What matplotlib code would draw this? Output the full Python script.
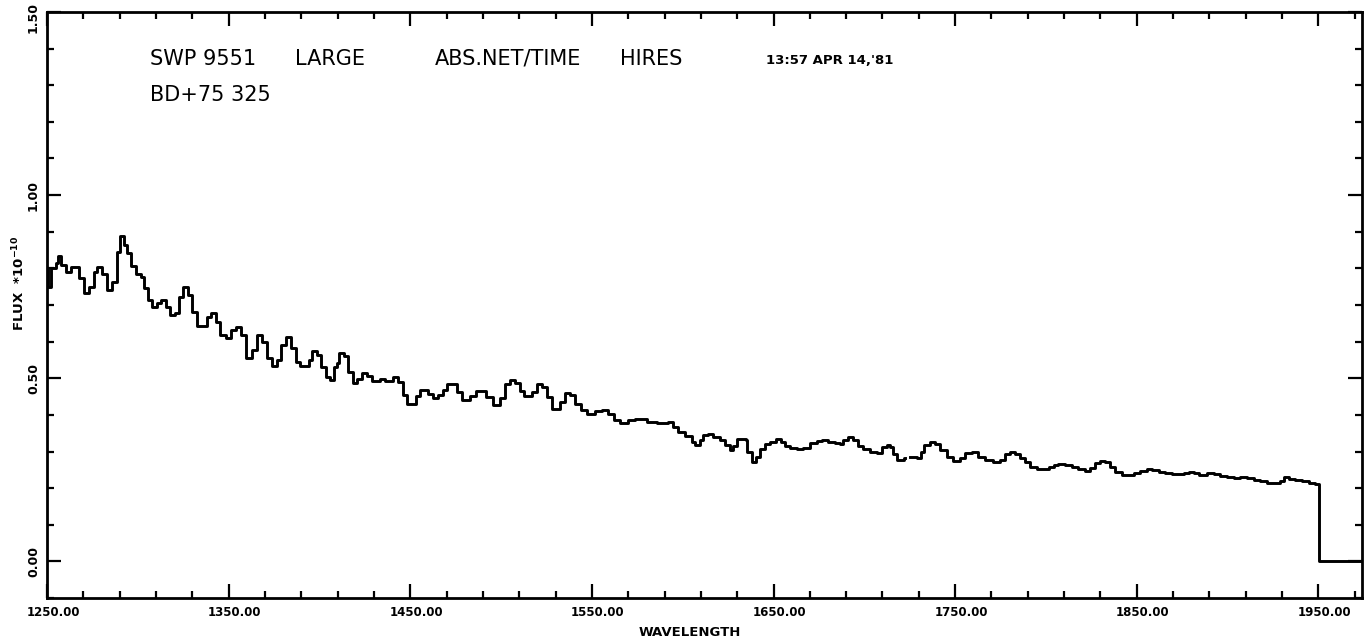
"""IUE SWP 9551 spectrum of BD+75 325 — absolute net flux, hi-res binning."""

import numpy as np
import matplotlib
matplotlib.use("Agg")
import matplotlib.pyplot as plt
import matplotlib.transforms as mtransforms
from matplotlib.ticker import MultipleLocator, FormatStrFormatter, FuncFormatter

W_PX, H_PX, DPI = 1364, 641, 100

# left bin edges (Angstrom) and flux (1e-10 units)
WAVE = [
    1250.3, 1250.8, 1252.4, 1254.8, 1256.1, 1257.9, 1260.3, 1263.0, 1267.8, 1270.4,
    1273.1, 1275.9, 1277.7, 1280.5, 1283.2, 1286.0, 1288.4, 1290.2, 1292.4, 1294.2,
    1296.4, 1298.8, 1301.6, 1303.4, 1305.6, 1308.0, 1310.8, 1312.6, 1315.3, 1317.7,
    1320.3, 1322.7, 1325.1, 1327.6, 1330.0, 1332.8, 1337.9, 1340.1, 1342.9, 1345.3,
    1348.4, 1351.1, 1353.9, 1356.6, 1359.4, 1363.1, 1365.8, 1368.6, 1371.3, 1374.1,
    1376.8, 1379.0, 1381.4, 1384.2, 1386.9, 1389.3, 1394.3, 1396.1, 1398.5, 1400.9,
    1403.4, 1405.8, 1408.0, 1409.8, 1410.9, 1413.5, 1415.9, 1418.3, 1420.5, 1423.2,
    1426.0, 1428.7, 1433.3, 1436.1, 1440.7, 1443.4, 1445.8, 1448.4, 1453.2, 1455.4,
    1460.0, 1462.7, 1465.5, 1468.2, 1470.4, 1475.6, 1478.3, 1482.9, 1486.2, 1491.7,
    1495.4, 1499.4, 1502.2, 1504.9, 1507.7, 1510.4, 1512.6, 1516.8, 1519.6, 1522.4,
    1525.1, 1527.9, 1532.5, 1535.2, 1538.0, 1540.7, 1543.8, 1547.1, 1551.7, 1555.4,
    1559.1, 1562.2, 1565.5, 1570.1, 1573.7, 1580.2, 1585.7, 1589.3, 1592.1, 1594.8,
    1597.6, 1601.3, 1604.9, 1606.8, 1609.5, 1611.4, 1614.1, 1616.9, 1620.5, 1623.3,
    1626.1, 1627.9, 1630.1, 1632.5, 1634.9, 1635.6, 1638.0, 1639.3, 1640.4, 1642.6,
    1645.3, 1648.1, 1651.4, 1654.0, 1656.3, 1659.1, 1662.8, 1666.4, 1670.1, 1673.8,
    1676.5, 1680.2, 1683.9, 1686.6, 1688.5, 1691.2, 1694.0, 1696.7, 1699.5, 1703.1,
    1706.8, 1709.6, 1712.3, 1714.2, 1715.6, 1717.8, 1719.7, 1721.9, 1722.6, 1725.2,
    1728.8, 1731.0, 1732.9, 1736.2, 1738.9, 1741.7, 1745.4, 1749.0, 1752.7, 1755.5,
    1759.1, 1762.8, 1766.5, 1771.1, 1774.8, 1777.6, 1780.3, 1783.1, 1785.8, 1788.6,
    1791.3, 1795.0, 1797.7, 1801.4, 1804.2, 1806.9, 1810.6, 1814.3, 1817.9, 1821.6,
    1824.4, 1827.1, 1829.9, 1832.6, 1835.4, 1838.1, 1841.8, 1844.5, 1848.2, 1851.9,
    1855.6, 1858.3, 1862.0, 1865.7, 1869.3, 1873.0, 1875.8, 1878.5, 1881.3, 1884.0,
    1885.8, 1888.6, 1892.3, 1895.9, 1899.6, 1903.3, 1907.0, 1910.6, 1914.3, 1918.0,
    1921.6, 1925.3, 1929.0, 1931.2, 1933.6, 1937.2, 1940.9, 1944.6, 1948.3, 1950.3,
    1974.0,
]
FLUX = [
    0.800, 0.750, 0.800, 0.814, 0.833, 0.809, 0.790, 0.804, 0.773, 0.733,
    0.750, 0.790, 0.804, 0.786, 0.742, 0.763, 0.844, 0.889, 0.863, 0.841,
    0.806, 0.786, 0.777, 0.746, 0.713, 0.694, 0.705, 0.713, 0.694, 0.672,
    0.678, 0.721, 0.749, 0.727, 0.681, 0.642, 0.668, 0.678, 0.654, 0.617,
    0.609, 0.631, 0.640, 0.617, 0.555, 0.577, 0.617, 0.599, 0.555, 0.533,
    0.549, 0.590, 0.612, 0.582, 0.545, 0.534, 0.549, 0.575, 0.563, 0.531,
    0.503, 0.495, 0.531, 0.542, 0.569, 0.560, 0.517, 0.487, 0.499, 0.513,
    0.505, 0.492, 0.499, 0.492, 0.504, 0.490, 0.454, 0.431, 0.451, 0.469,
    0.458, 0.445, 0.454, 0.469, 0.484, 0.463, 0.440, 0.451, 0.464, 0.449,
    0.426, 0.445, 0.484, 0.496, 0.486, 0.464, 0.451, 0.463, 0.484, 0.475,
    0.449, 0.417, 0.435, 0.460, 0.454, 0.429, 0.414, 0.402, 0.410, 0.414,
    0.402, 0.387, 0.378, 0.387, 0.390, 0.381, 0.379, 0.379, 0.381, 0.367,
    0.353, 0.342, 0.326, 0.319, 0.331, 0.346, 0.349, 0.340, 0.331, 0.317,
    0.305, 0.314, 0.333, 0.333, 0.331, 0.299, 0.271, 0.272, 0.284, 0.308,
    0.320, 0.326, 0.333, 0.326, 0.314, 0.309, 0.308, 0.309, 0.322, 0.329,
    0.331, 0.326, 0.322, 0.320, 0.331, 0.339, 0.331, 0.314, 0.306, 0.300,
    0.296, 0.313, 0.317, 0.313, 0.293, 0.278, 0.277, 0.283, np.nan, 0.284,
    0.281, 0.299, 0.317, 0.326, 0.320, 0.303, 0.285, 0.274, 0.283, 0.296,
    0.299, 0.286, 0.277, 0.272, 0.278, 0.294, 0.299, 0.294, 0.283, 0.271,
    0.259, 0.251, 0.253, 0.258, 0.264, 0.267, 0.264, 0.258, 0.251, 0.248,
    0.255, 0.269, 0.273, 0.271, 0.258, 0.244, 0.237, 0.235, 0.240, 0.247,
    0.253, 0.250, 0.244, 0.241, 0.238, 0.238, 0.241, 0.244, 0.241, 0.235,
    0.237, 0.241, 0.238, 0.232, 0.230, 0.228, 0.230, 0.228, 0.223, 0.219,
    0.215, 0.215, 0.219, 0.230, 0.226, 0.221, 0.219, 0.215, 0.212, 0.000,
    0.000,
]

X_MAJOR = 100
X_MINOR = 20
X_OFFSET = 50     # major ticks at 1250, 1350, ...
Y_MAJOR = 0.5
Y_MINOR = 0.1
Y_TOP = 1.5

INK = "#000000"


def px(x, y):
    """pixel position (from top-left) -> figure fraction"""
    return x / W_PX, 1 - y / H_PX


def ylab(v, _pos):
    # top label is placed by hand below the frame edge
    return "" if v >= Y_TOP - 1e-9 else f"{v:.2f}"


def main():
    fig = plt.figure(figsize=(W_PX / DPI, H_PX / DPI), dpi=DPI)
    fig.patch.set_facecolor("white")

    l, t = px(47, 12)
    r, b = px(1362, 598)
    ax = fig.add_axes([l, b, r - l, t - b])

    ax.plot(WAVE, FLUX, drawstyle="steps-post", color=INK, lw=2.1)

    ax.set_xlim(1250, 1974)
    ax.set_ylim(-0.1, Y_TOP)

    ax.xaxis.set_major_locator(MultipleLocator(X_MAJOR, offset=X_OFFSET))
    ax.xaxis.set_minor_locator(MultipleLocator(X_MINOR, offset=10))
    ax.yaxis.set_major_locator(MultipleLocator(Y_MAJOR))
    ax.yaxis.set_minor_locator(MultipleLocator(Y_MINOR))
    ax.xaxis.set_major_formatter(FormatStrFormatter("%.2f"))
    ax.yaxis.set_major_formatter(FuncFormatter(ylab))

    ax.tick_params(which="both", direction="in", top=True, right=True,
                   color=INK, width=1.6)
    ax.tick_params(which="major", length=10)
    ax.tick_params(which="minor", length=5)
    ax.tick_params(axis="x", which="major", labelsize=8.5, pad=6)
    ax.tick_params(axis="y", which="major", labelsize=9, pad=5)

    # plotter put the wavelength labels a touch right of the tick
    shift = mtransforms.ScaledTranslation(6 / DPI, 0, fig.dpi_scale_trans)
    for lab in ax.get_xticklabels():
        lab.set_fontweight("bold")
        lab.set_transform(lab.get_transform() + shift)
    for lab in ax.get_yticklabels():
        lab.set_fontweight("bold")
        lab.set_rotation(90)
        lab.set_va("center")
    fig.text(*px(33, 2), f"{Y_TOP:.2f}", ha="center", va="top", rotation=90,
             fontsize=9, fontweight="bold")

    for sp in ax.spines.values():
        sp.set_linewidth(2.0)
        sp.set_color(INK)

    # axis titles
    fig.text(*px(690, 632), "WAVELENGTH", ha="center", va="center",
             fontsize=9.5, fontweight="bold")
    fig.text(*px(19, 283), "FLUX  *10$^{\\mathbf{-10}}$", ha="center",
             va="center", rotation=90, fontsize=9.5, fontweight="bold")

    # plotter header
    fig.text(*px(150, 65), "SWP 9551", ha="left", va="baseline", fontsize=15)
    fig.text(*px(295, 65), "LARGE", ha="left", va="baseline", fontsize=15)
    fig.text(*px(435, 65), "ABS.NET/TIME", ha="left", va="baseline",
             fontsize=15)
    fig.text(*px(620, 65), "HIRES", ha="left", va="baseline", fontsize=15)
    fig.text(*px(766, 64), "13:57 APR 14,'81", ha="left", va="baseline",
             fontsize=9.5, fontweight="bold")
    fig.text(*px(150, 101), "BD+75 325", ha="left", va="baseline", fontsize=15)

    fig.savefig("out.png", dpi=DPI)


if __name__ == "__main__":
    main()
